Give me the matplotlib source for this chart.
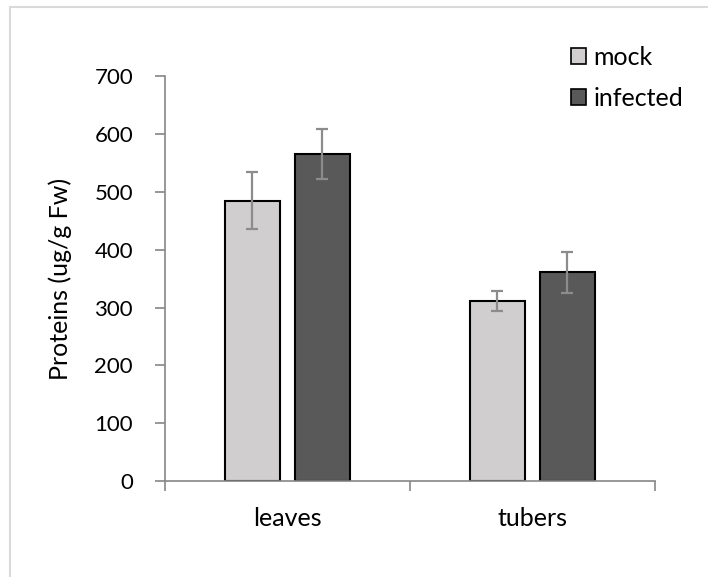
import matplotlib.pyplot as plt
import numpy as np
from matplotlib.lines import Line2D
from matplotlib.patches import Patch

plt.rcParams["font.family"] = ["Lato", "DejaVu Sans"]

tissues = ["leaves", "tubers"]
mock = [485, 311]
mock_err = [49, 17.5]
infected = [566, 361]
infected_err = [43.5, 35]
y_ticks = [0, 100, 200, 300, 400, 500, 600, 700]

axis_gray = "#868686"

fig = plt.figure(figsize=(7.08, 5.77), dpi=100)
ax = fig.add_axes([0.233, 0.1664, 0.692, 0.7014])

x = np.arange(len(tissues))
width = 0.224
offset = 0.143
err_kw = dict(ecolor="#8c8c8c", elinewidth=1.6, capsize=4.5, capthick=1.6)

ax.bar(x - offset, mock, width, yerr=mock_err, color="#d0cece",
       edgecolor="black", linewidth=1.5, error_kw=err_kw, label="mock")
ax.bar(x + offset, infected, width, yerr=infected_err, color="#595959",
       edgecolor="black", linewidth=1.5, error_kw=err_kw, label="infected")

ax.set_xlim(-0.5, 1.5)
ax.set_ylim(0, 700)
ax.set_yticks(y_ticks)
ax.set_xticks(x)
ax.set_xticklabels(tissues)
ax.set_xticks([-0.5, 0.5, 1.5], minor=True)
ax.tick_params(axis="x", which="major", length=0, pad=19, labelsize=18)
ax.tick_params(axis="x", which="minor", length=7, color=axis_gray, width=1.2)
ax.tick_params(axis="y", length=7, color=axis_gray, width=1.2, pad=16, labelsize=16)

for side in ("top", "right"):
    ax.spines[side].set_visible(False)
for side in ("left", "bottom"):
    ax.spines[side].set_color(axis_gray)
    ax.spines[side].set_linewidth(1.2)

ax.set_ylabel("Proteins (ug/g Fw)", fontsize=18, labelpad=16)

handles = [Patch(facecolor="#d0cece", edgecolor="black", linewidth=1.2),
           Patch(facecolor="#595959", edgecolor="black", linewidth=1.2)]
ax.legend(handles, ["mock", "infected"], loc="upper left",
          bbox_to_anchor=(0.806, 0.92), bbox_transform=fig.transFigure,
          frameon=False, fontsize=18, handlelength=0.62, handleheight=0.62,
          handletextpad=0.3, labelspacing=0.72, borderpad=0, borderaxespad=0)

# light outer chart border (left and top edges are visible in the crop)
frame_color = "#d9d9d9"
fig.add_artist(Line2D([10 / 708, 10 / 708], [0, 1 - 7 / 577], color=frame_color,
                      linewidth=1.5, transform=fig.transFigure))
fig.add_artist(Line2D([10 / 708, 1], [1 - 7 / 577, 1 - 7 / 577], color=frame_color,
                      linewidth=1.5, transform=fig.transFigure))

fig.savefig("out.png", dpi=100)
